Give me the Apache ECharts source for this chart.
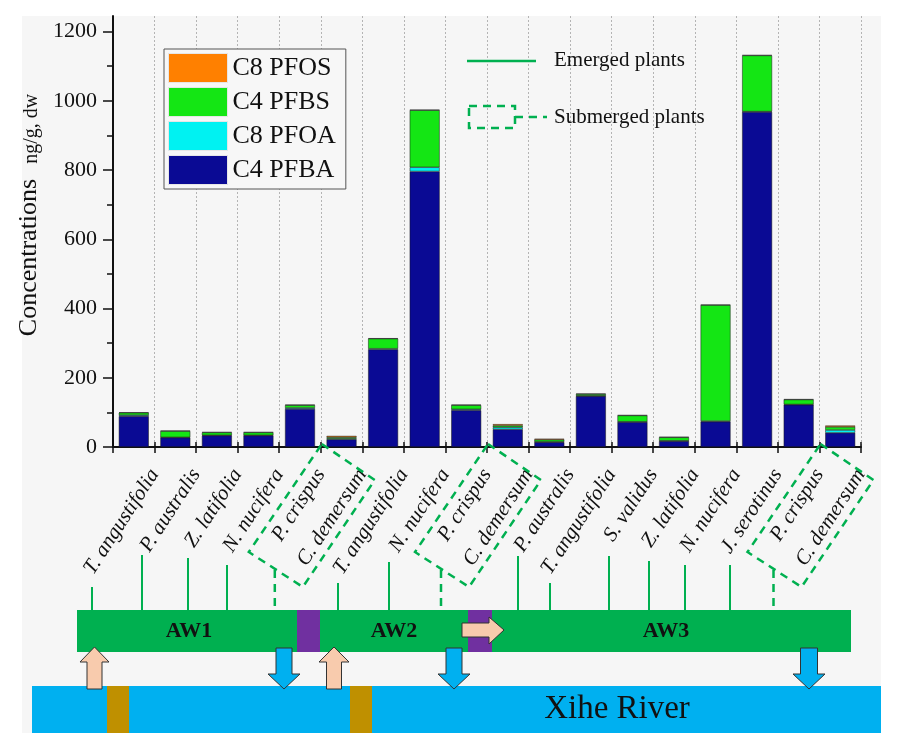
<!DOCTYPE html>
<html><head><meta charset="utf-8">
<script src="https://cdn.jsdelivr.net/npm/echarts@6/dist/echarts.min.js"></script>
<style>html,body{margin:0;padding:0;background:#fff}#c{width:916px;height:748px}</style>
</head><body><div id="c"></div>
<script>
const categories = ['T. angustifolia','P. australis','Z. latifolia','N. nucifera','P. crispus','C. demersum',
  'T. angustifolia','N. nucifera','P. crispus','C. demersum',
  'P. australis','T. angustifolia','S. validus','Z. latifolia','N. nucifera','J. serotinus','P. crispus','C. demersum'];
const pfba = [89,27,33,33,110,22,282,796,106,51,14,147,72,17,73,968,122,41];
const pfoa = [3,1,1,1,3,2,2,12,3,6,1,1,1,1,2,1,1,8];
const pfbs = [7,18,8,8,8,4,29,165,12,5,6,5,18,10,335,162,14,9];
const pfos = [1,1,1,1,1,4,1,1,1,4,3,1,1,1,1,1,1,4];
const seriesNames = ['C4 PFBA','C8 PFOA','C4 PFBS','C8 PFOS'];
const legendOrder = ['C8 PFOS','C4 PFBS','C8 PFOA','C4 PFBA'];
const yTicks = [0,200,400,600,800,1000,1200];
const yMinorTicks = [100,300,500,700,900,1100];
const areaLabels = ['AW1','AW2','AW3'];
const riverLabel = 'Xihe River';
// label axis: one slot per category boundary, each name sits at its category's right edge
const boundaryLabels = [''].concat(categories);

const SERIF = '"Liberation Serif", "DejaVu Serif", serif';
const GREEN = '#00b050';
const colors = ['#0a0a94','#00f2f2','#14e614','#ff8000'];
const values = [pfba, pfoa, pfbs, pfos];

const chart = echarts.init(document.getElementById('c'), null, {renderer:'canvas'});

function line(x1,y1,x2,y2,opt){
  return Object.assign({type:'line', silent:true, z:5, shape:{x1,y1,x2,y2},
    style:{stroke:GREEN, lineWidth:2}}, opt||{});
}
function poly(points, style, z){
  return {type:'polygon', silent:true, z:z||5, shape:{points}, style};
}
function text(t, x, y, font, extra){
  return {type:'text', silent:true, z:6, style:Object.assign({text:t, x, y, font, fill:'#111', align:'center', verticalAlign:'middle'}, extra||{})};
}
function upArrow(cx, tipY, baseY, headHalf, shaftHalf, headBaseY){
  return poly([[cx,tipY],[cx+headHalf,headBaseY],[cx+shaftHalf,headBaseY],[cx+shaftHalf,baseY],
    [cx-shaftHalf,baseY],[cx-shaftHalf,headBaseY],[cx-headHalf,headBaseY]],
    {fill:'#f8cbad', stroke:'#333', lineWidth:1}, 8);
}
function downArrow(cx, topY, tipY, headHalf, shaftHalf, headBaseY){
  return poly([[cx-shaftHalf,topY],[cx+shaftHalf,topY],[cx+shaftHalf,headBaseY],[cx+headHalf,headBaseY],
    [cx,tipY],[cx-headHalf,headBaseY],[cx-shaftHalf,headBaseY]],
    {fill:'#00b0f0', stroke:'#333', lineWidth:1}, 8);
}
const dashStyle = {fill:'none', stroke:GREEN, lineWidth:2.5, lineDash:[8,6]};

const emergedStems = [[92,587],[142,555],[188,558],[227,565],[338,583],[389,562],
  [518,556],[550,583],[609,556],[649,561],[685,565],[730,565]];
const boxAnchors = [320.8, 487, 819.5];

const graphics = [
  {type:'rect', silent:true, z:-100, shape:{x:22,y:16,width:859,height:717}, style:{fill:'#f6f6f6'}},
  line(467,61,536,61,{style:{stroke:GREEN,lineWidth:2.5}}),
  text('Emerged plants',554,60,'21px '+SERIF,{align:'left'}),
  {type:'rect', silent:true, z:5, shape:{x:469,y:106,width:46,height:22}, style:dashStyle},
  line(515,117,547,117,{style:dashStyle}),
  text('Submerged plants',554,117,'21px '+SERIF,{align:'left'}),
  {type:'rect', silent:true, z:3, shape:{x:32,y:686,width:849,height:47}, style:{fill:'#00b0f0'}},
  {type:'rect', silent:true, z:4, shape:{x:107,y:686,width:22,height:47}, style:{fill:'#bf9000'}},
  {type:'rect', silent:true, z:4, shape:{x:350,y:686,width:22,height:47}, style:{fill:'#bf9000'}},
  text(riverLabel,617,709,'33px '+SERIF),
  {type:'rect', silent:true, z:3, shape:{x:77,y:610,width:774,height:42}, style:{fill:GREEN}},
  {type:'rect', silent:true, z:4, shape:{x:297,y:610,width:23,height:42}, style:{fill:'#7030a0'}},
  {type:'rect', silent:true, z:4, shape:{x:468,y:610,width:24,height:42}, style:{fill:'#7030a0'}},
  text(areaLabels[0],189,631,'bold 22px '+SERIF),
  text(areaLabels[1],394,631,'bold 22px '+SERIF),
  text(areaLabels[2],666,631,'bold 22px '+SERIF),
  poly([[462,623],[489,623],[489,617],[504,630],[489,644],[489,637],[462,637]],{fill:'#f8cbad',stroke:'#333',lineWidth:1},8),
  upArrow(94.5,647,689,14.5,7.5,662),
  upArrow(334,647,689,15,7.5,662),
  downArrow(284,648,689,16,8,674),
  downArrow(454,648,689,16,8,674),
  downArrow(809,648,689,16,8.5,674)
];
emergedStems.forEach(s => graphics.push(line(s[0], s[1], s[0], 610)));
boxAnchors.forEach(xb => {
  graphics.push(poly([[xb+1,444],[xb+54,480],[xb-18,587],[xb-72,552]], dashStyle, 5));
  graphics.push(line(xb-46,570,xb-46,610,{style:dashStyle}));
});

const option = {
  animation:false,
  backgroundColor:'#ffffff',
  grid:{left:113, right:55, top:16, bottom:301},
  legend:{
    data:legendOrder, orient:'vertical', left:164, top:49,
    itemWidth:59, itemHeight:29, itemGap:4, padding:[4,10,4,4],
    backgroundColor:'#f7f7f7', borderColor:'#555', borderWidth:1,
    icon:'rect',
    itemStyle:{borderColor:'#e6e6e6', borderWidth:1},
    textStyle:{fontFamily:SERIF, fontSize:26, color:'#111'},
    selectedMode:false
  },
  xAxis:[{
    type:'category', data:categories, gridIndex:0, position:'bottom',
    axisLine:{lineStyle:{color:'#111', width:2}},
    axisTick:{show:true, interval:0, alignWithLabel:false, length:6, lineStyle:{color:'#111', width:1.5}},
    splitLine:{show:true, interval:0, lineStyle:{color:'#b4b4b4', type:[2,2], width:1}},
    axisLabel:{show:false, interval:0}
  },{
    type:'category', data:boundaryLabels, boundaryGap:false, gridIndex:0, position:'bottom',
    axisLine:{show:false},
    axisTick:{show:true, interval:0, inside:true, length:5, lineStyle:{color:'#111', width:1.5}},
    axisLabel:{show:true, interval:0, rotate:57, margin:24, hideOverlap:false,
      fontFamily:SERIF, fontStyle:'italic', fontSize:21, color:'#111'},
    splitLine:{show:false}
  }],
  yAxis:[{
    type:'value', min:0, max:1245, position:'left',
    name:'{a|Concentrations}{b|   ng/g, dw}', nameLocation:'middle', nameGap:50,
    nameTextStyle:{padding:[0,0,0,33], rich:{
      a:{fontFamily:SERIF, fontSize:26, color:'#111', verticalAlign:'bottom'},
      b:{fontFamily:SERIF, fontSize:20, color:'#111', verticalAlign:'bottom'}}},
    axisLine:{show:true, lineStyle:{color:'#111', width:2}},
    axisTick:{show:true, length:10, customValues:yTicks, lineStyle:{color:'#111', width:1.5}},
    axisLabel:{customValues:yTicks, margin:16, fontFamily:SERIF, fontSize:22, color:'#111',
      formatter: v => String(v)},
    splitLine:{show:false}
  },{
    type:'value', min:0, max:1245, position:'left',
    axisLine:{show:false},
    axisTick:{show:true, length:6, customValues:yMinorTicks, lineStyle:{color:'#111', width:1.5}},
    axisLabel:{show:false}, splitLine:{show:false}
  }],
  series: seriesNames.map((n,i) => ({
    name:n, type:'bar', stack:'total', xAxisIndex:0, yAxisIndex:0,
    barCategoryGap:'28%', data:values[i],
    itemStyle:{color:colors[i], borderColor:'#1a1a1a', borderWidth:0.5}
  })),
  graphic:{elements:graphics}
};
chart.setOption(option);
</script></body></html>
